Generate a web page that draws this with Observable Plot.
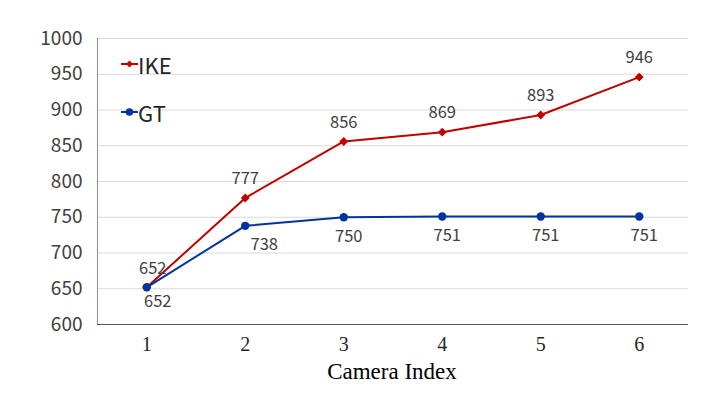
<!DOCTYPE html>
<html><head><meta charset="utf-8">
<script src="https://cdn.jsdelivr.net/npm/d3@7"></script>
<script src="https://cdn.jsdelivr.net/npm/@observablehq/plot@0.6"></script>
<style>
html,body{margin:0;padding:0;background:#fff;}
#wrap{position:relative;width:706px;height:397px;overflow:hidden;}
#wrap svg.plot{position:absolute;left:0;top:0;}
.leg{position:absolute;font-family:"Noto Sans CJK SC","DejaVu Sans",sans-serif;font-size:22px;color:#262626;display:flex;align-items:center;}
#xt{position:absolute;left:0;width:706px;text-align:center;top:359px;font-family:"Liberation Serif","Times New Roman",serif;font-size:23px;color:#000;padding-left:78px;box-sizing:border-box;}
</style></head>
<body><div id="wrap"></div>
<script>
const cameras = [1, 2, 3, 4, 5, 6];
const ike = [652, 777, 856, 869, 893, 946];
const gt = [652, 738, 750, 751, 751, 751];
const yTicks = [600, 650, 700, 750, 800, 850, 900, 950, 1000];
const series = ["IKE", "GT"];
const colors = ["#C00000", "#0033A0"];
const xTitle = "Camera Index";

const ikeData = cameras.map((c, i) => ({x: c, y: ike[i], s: "IKE"}));
const gtData = cameras.map((c, i) => ({x: c, y: gt[i], s: "GT"}));
const sans = '"Noto Sans CJK SC","DejaVu Sans",sans-serif';
const lbl = {fontSize: 16.5, fill: "#404040", fontFamily: sans};

const chart = Plot.plot({
  width: 706, height: 397,
  marginLeft: 97, marginRight: 18, marginTop: 38, marginBottom: 73,
  x: {domain: [0.5, 6.5], ticks: cameras},
  y: {domain: [600, 1000], ticks: yTicks},
  style: {background: "#fff"},
  marks: [
    Plot.gridY(yTicks, {stroke: "#d9d9d9", strokeOpacity: 1}),
    Plot.ruleX([0.5], {stroke: "#8c8c8c"}),
    Plot.ruleY([600], {stroke: "#595959", strokeWidth: 1.2}),
    Plot.axisY(yTicks, {tickSize: 0, tickPadding: 15, fontSize: 19, fill: "#404040", fontFamily: sans, label: null, tickFormat: d => String(d)}),
    Plot.axisX(cameras, {tickSize: 0, tickPadding: 12, fontSize: 20, fill: "#262626", fontFamily: '"Liberation Serif",serif', label: null, tickFormat: d => String(d)}),
    Plot.line(ikeData, {x: "x", y: "y", stroke: colors[0], strokeWidth: 2}),
    Plot.line(gtData, {x: "x", y: "y", stroke: colors[1], strokeWidth: 2}),
    Plot.dot(ikeData, {x: "x", y: "y", r: 4, symbol: "diamond2", fill: colors[0], stroke: "none"}),
    Plot.dot(gtData, {x: "x", y: "y", r: 4.2, fill: colors[1], stroke: "none"}),
    Plot.text(ikeData.slice(0, 1), {x: "x", y: "y", text: d => String(d.y), dy: -19, dx: 6, ...lbl}),
    Plot.text(ikeData.slice(1), {x: "x", y: "y", text: d => String(d.y), dy: -19, ...lbl}),
    Plot.text(gtData.slice(0, 1), {x: "x", y: "y", text: d => String(d.y), dy: 14, dx: 11, ...lbl}),
    Plot.text(gtData.slice(1, 2), {x: "x", y: "y", text: d => String(d.y), dy: 19, dx: 19, ...lbl}),
    Plot.text(gtData.slice(2), {x: "x", y: "y", text: d => String(d.y), dy: 19, dx: 5, ...lbl})
  ]
});
chart.classList.add("plot");
const wrap = document.getElementById("wrap");
wrap.appendChild(chart);

// legend
const legTops = [48, 96];
series.forEach((name, i) => {
  const d = document.createElement("div");
  d.className = "leg";
  d.style.left = "121px";
  d.style.top = legTops[i] + "px";
  const mk = i === 0
    ? '<svg width="17" height="10"><line x1="0" y1="5" x2="17" y2="5" stroke="' + colors[i] + '" stroke-width="2"/><path d="M8.5 1.5 L12 5 L8.5 8.5 L5 5Z" fill="' + colors[i] + '"/></svg>'
    : '<svg width="17" height="10"><line x1="0" y1="5" x2="17" y2="5" stroke="' + colors[i] + '" stroke-width="2"/><circle cx="8.5" cy="5" r="3.8" fill="' + colors[i] + '"/></svg>';
  d.innerHTML = mk + '<span>' + name + '</span>';
  wrap.appendChild(d);
});
const t = document.createElement("div");
t.id = "xt"; t.textContent = xTitle;
wrap.appendChild(t);
</script></body></html>
